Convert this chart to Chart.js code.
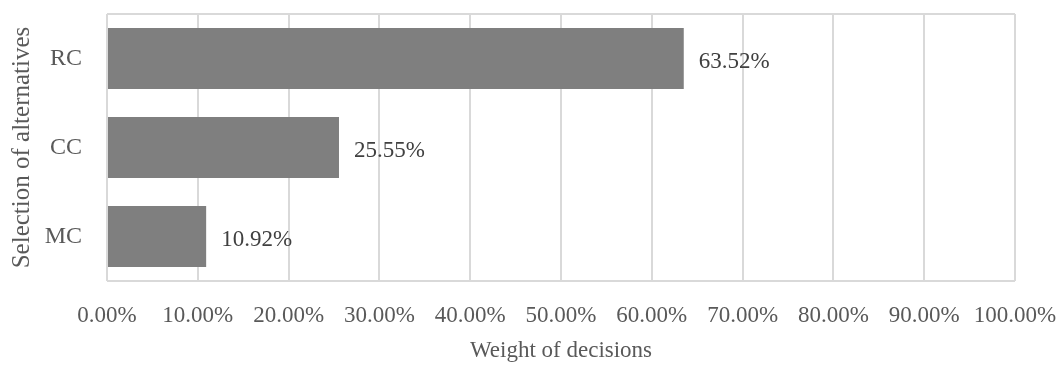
<!DOCTYPE html>
<html>
<head>
<meta charset="utf-8">
<script src="https://cdn.jsdelivr.net/npm/chart.js@4/dist/chart.umd.min.js"></script>
<style>
  html, body { margin: 0; padding: 0; background: #fff; }
  #wrap { width: 1057px; height: 367px; }
</style>
</head>
<body>
<div id="wrap"><canvas id="weightChart"></canvas></div>
<script>
// Chart data
const alternatives = ["RC", "CC", "MC"];
const weights = [63.52, 25.55, 10.92];
const xTitle = "Weight of decisions";
const yTitle = "Selection of alternatives";

const textColor = "#595959";
const gridColor = "#d9d9d9";
const fontFamily = "'Liberation Serif', 'Times New Roman', serif";

// value labels at the end of each bar
const barLabels = {
  id: "barLabels",
  afterDatasetsDraw(chart) {
    const ctx = chart.ctx;
    const meta = chart.getDatasetMeta(0);
    ctx.save();
    ctx.font = "23px " + fontFamily;
    ctx.fillStyle = "#404040";
    ctx.textAlign = "left";
    ctx.textBaseline = "middle";
    meta.data.forEach((bar, i) => {
      ctx.fillText(weights[i].toFixed(2) + "%", bar.x + 15, bar.y + 3);
    });
    ctx.restore();
  }
};

const ctx = document.getElementById("weightChart").getContext("2d");
const weightChart = new Chart(ctx, {
  type: "bar",
  data: {
    labels: alternatives,
    datasets: [{
      data: weights,
      backgroundColor: "#7f7f7f",
      borderWidth: 0,
      barPercentage: 0.685,
      categoryPercentage: 1.0
    }]
  },
  options: {
    indexAxis: "y",
    responsive: true,
    maintainAspectRatio: false,
    animation: false,
    layout: { padding: { top: 14, right: 0, bottom: 0, left: 0 } },
    plugins: {
      legend: { display: false },
      tooltip: { enabled: false }
    },
    scales: {
      x: {
        min: 0,
        max: 100,
        border: { display: false },
        grid: { color: gridColor, lineWidth: 2, drawTicks: false },
        ticks: {
          stepSize: 10,
          padding: 21,
          color: textColor,
          font: { family: fontFamily, size: 23 },
          maxRotation: 0,
          autoSkip: false,
          callback: v => v.toFixed(2) + "%"
        },
        title: {
          display: true,
          text: xTitle,
          color: textColor,
          font: { family: fontFamily, size: 23 },
          padding: { top: 0, bottom: 2 }
        },
        afterFit(scale) {
          scale.height = 86;
          scale.paddingLeft = 0;
          scale.paddingRight = 42;
        }
      },
      y: {
        border: { display: false },
        grid: {
          drawTicks: false,
          lineWidth: 2,
          color: c => (c.index === 0 || c.index === undefined) ? gridColor : "rgba(0,0,0,0)"
        },
        ticks: {
          padding: 25,
          color: textColor,
          font: { family: fontFamily, size: 24 }
        },
        title: {
          display: true,
          text: yTitle,
          color: textColor,
          font: { family: fontFamily, size: 25 },
          padding: { top: 7, bottom: 0 }
        },
        afterFit(scale) {
          scale.width = 107;
          scale.paddingTop = 0;
          scale.paddingBottom = 0;
        }
      }
    }
  },
  plugins: [barLabels]
});
</script>
</body>
</html>
